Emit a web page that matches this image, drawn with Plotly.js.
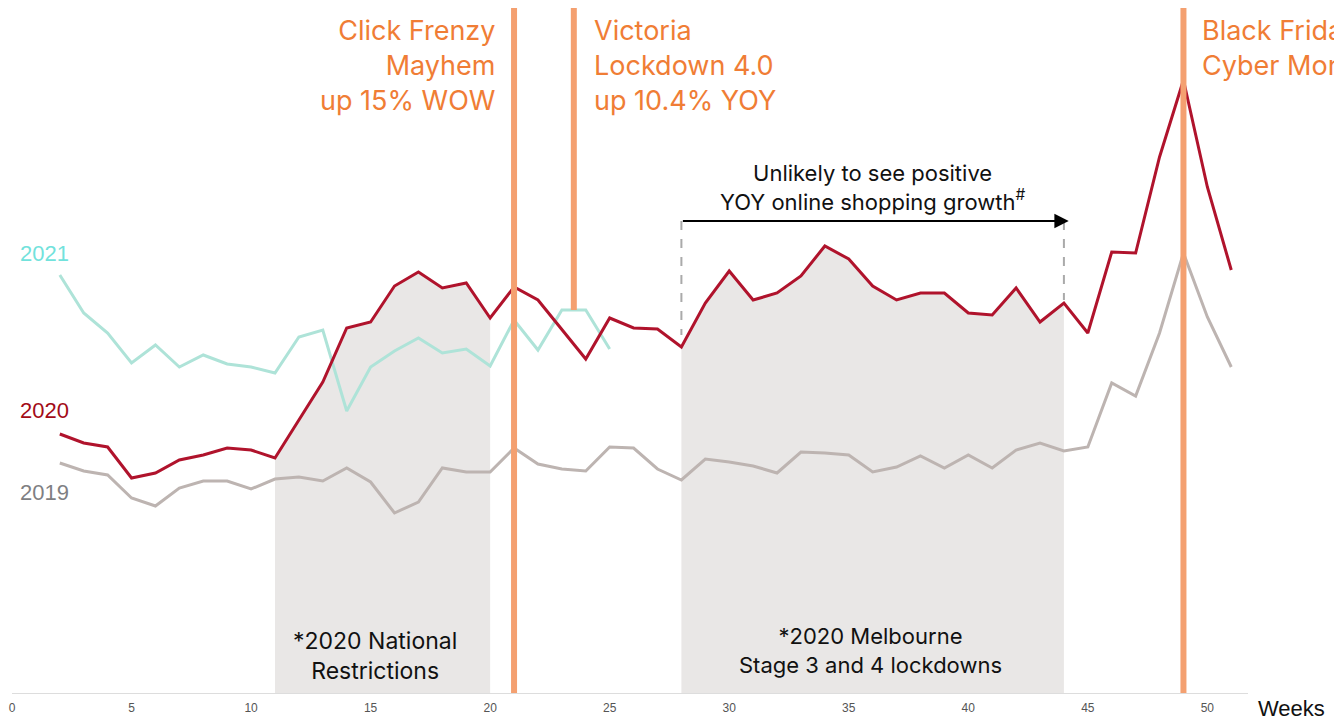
<!DOCTYPE html>
<html>
<head>
<meta charset="utf-8">
<script src="https://cdn.plot.ly/plotly-3.0.1.min.js"></script>
<style>html,body{margin:0;padding:0;background:#fff;}#chart{width:1334px;height:719px;}</style>
</head>
<body>
<div id="chart"></div>
<script>
// Weekly online shopping index (relative units)
const weeks2021 = [2,3,4,5,6,7,8,9,10,11,12,13,14,15,16,17,18,19,20,21,22,23,24,25];
const values2021 = [418,380,360,330,348,326,338,329,326,320,356,363,282,326,342,355,340,344,327,373,343,383,383,344];

const weeks = [2,3,4,5,6,7,8,9,10,11,12,13,14,15,16,17,18,19,20,21,22,23,24,25,26,27,28,29,30,31,32,33,34,35,36,37,38,39,40,41,42,43,44,45,46,47,48,49,50,51];
const values2020 = [259,250,246,215,220,233,238,245,243,235,273,311,365,371,407,421,405,410,375,406,393,363,334,375,365,364,346,390,422,393,400,417,447,434,407,393,400,400,380,378,405,371,390,360,441,440,536,613,506,423];
const values2019 = [230,222,218,195,187,205,212,212,204,214,216,212,225,211,180,191,225,221,221,245,229,224,222,246,245,224,213,234,231,227,220,241,240,238,221,226,237,225,238,225,243,250,242,246,310,297,360,440,376,326];

const shade1Weeks = [11,12,13,14,15,16,17,18,19,20];
const shade2Weeks = [28,29,30,31,32,33,34,35,36,37,38,39,40,41,42,43,44];
const eventWeeks = [21, 23.5, 49];
const tickVals = [0,5,10,15,20,25,30,35,40,45,50];

function pick(ws){ return ws.map(w => values2020[weeks.indexOf(w)]); }

const shadeColor = '#e9e7e6';
const traces = [
  {x: shade1Weeks, y: pick(shade1Weeks), type:'scatter', mode:'lines', fill:'tozeroy', fillcolor: shadeColor, line:{width:0}, hoverinfo:'skip', showlegend:false},
  {x: shade2Weeks, y: pick(shade2Weeks), type:'scatter', mode:'lines', fill:'tozeroy', fillcolor: shadeColor, line:{width:0}, hoverinfo:'skip', showlegend:false},
  {x: weeks, y: values2019, type:'scatter', mode:'lines', name:'2019', line:{color:'#bdb4b1', width:3}, showlegend:false},
  {x: weeks2021, y: values2021, type:'scatter', mode:'lines', name:'2021', line:{color:'#aee3d8', width:3}, showlegend:false},
  {x: weeks, y: values2020, type:'scatter', mode:'lines', name:'2020', line:{color:'#b0132c', width:3}, showlegend:false}
];

const orange = '#f4a070';
const orangeText = '#f07d35';
const shapes = [
  {type:'line', xref:'x', yref:'y', x0:eventWeeks[0], x1:eventWeeks[0], y0:0, y1:685, line:{color:orange, width:6}},
  {type:'line', xref:'x', yref:'y', x0:eventWeeks[1], x1:eventWeeks[1], y0:383, y1:685, line:{color:orange, width:6}},
  {type:'line', xref:'x', yref:'y', x0:eventWeeks[2], x1:eventWeeks[2], y0:0, y1:685, line:{color:orange, width:6}},
  {type:'line', xref:'x', yref:'y', x0:28, x1:28, y0:472, y1:358, line:{color:'#aaaaaa', width:2, dash:'dash'}},
  {type:'line', xref:'x', yref:'y', x0:44, x1:44, y0:472, y1:393, line:{color:'#aaaaaa', width:2, dash:'dash'}}
];

const F = 'Inter, "Noto Sans", sans-serif';
const annotations = [
  {x:20.3, y:681, xref:'x', yref:'y', text:'Click Frenzy<br>Mayhem<br>up 15% WOW', showarrow:false, xanchor:'right', yanchor:'top', align:'right', font:{family:F, size:27, color:orangeText}},
  {x:24.27, y:681, xref:'x', yref:'y', text:'Victoria<br>Lockdown 4.0<br>up 10.4% YOY', showarrow:false, xanchor:'left', yanchor:'top', align:'left', font:{family:F, size:27, color:orangeText}},
  {x:49.7, y:681, xref:'x', yref:'y', text:'Black Friday<br>Cyber Monday', showarrow:false, xanchor:'left', yanchor:'top', align:'left', font:{family:F, size:27, color:orangeText}},
  {x:36, y:506, xref:'x', yref:'y', text:'Unlikely to see positive<br>YOY online shopping growth<sup>#</sup>', showarrow:false, xanchor:'center', yanchor:'middle', align:'center', font:{family:F, size:22, color:'#111'}},
  {x:44.2, y:472, ax:28, ay:472, xref:'x', yref:'y', axref:'x', ayref:'y', text:'', showarrow:true, arrowhead:2, arrowsize:1.3, arrowwidth:2.2, arrowcolor:'#000'},
  {x:15.2, y:37, xref:'x', yref:'y', text:'*2020 National<br>Restrictions', showarrow:false, xanchor:'center', yanchor:'middle', align:'center', font:{family:F, size:23, color:'#111'}},
  {x:35.9, y:43, xref:'x', yref:'y', text:'*2020 Melbourne<br>Stage 3 and 4 lockdowns', showarrow:false, xanchor:'center', yanchor:'middle', align:'center', font:{family:F, size:22, color:'#111'}},
  {x:0.25, y:440, xref:'x', yref:'y', text:'2021', showarrow:false, xanchor:'left', yanchor:'middle', font:{family:'"Liberation Sans", Arial, sans-serif', size:22, color:'#72e2dc'}},
  {x:0.25, y:283, xref:'x', yref:'y', text:'2020', showarrow:false, xanchor:'left', yanchor:'middle', font:{family:'"Liberation Sans", Arial, sans-serif', size:22, color:'#a30b17'}},
  {x:0.25, y:201, xref:'x', yref:'y', text:'2019', showarrow:false, xanchor:'left', yanchor:'middle', font:{family:'"Liberation Sans", Arial, sans-serif', size:22, color:'#7f7f83'}},
  {x:1, y:0, xref:'paper', yref:'paper', text:'Weeks', showarrow:false, xanchor:'left', yanchor:'middle', xshift:8, yshift:-15, font:{family:'"Liberation Sans Narrow", "Liberation Sans", Arial, sans-serif', size:22, color:'#111'}}
];

const layout = {
  width:1334, height:719,
  margin:{l:12, r:86, t:0, b:26},
  paper_bgcolor:'#ffffff', plot_bgcolor:'#ffffff',
  showlegend:false,
  xaxis:{range:[0,51.7], tickvals:tickVals, ticktext:tickVals.map(String), showgrid:false, zeroline:false, showline:true, linecolor:'#dddddd', linewidth:1, ticks:'', ticklabelstandoff:4, tickfont:{family:'"Liberation Sans Narrow", "Liberation Sans", Arial, sans-serif', size:12, color:'#555'}},
  yaxis:{range:[0,693], showgrid:false, zeroline:false, showline:false, showticklabels:false, ticks:''},
  shapes: shapes,
  annotations: annotations
};

Plotly.newPlot('chart', traces, layout, {displayModeBar:false, staticPlot:true});
</script>
</body>
</html>
